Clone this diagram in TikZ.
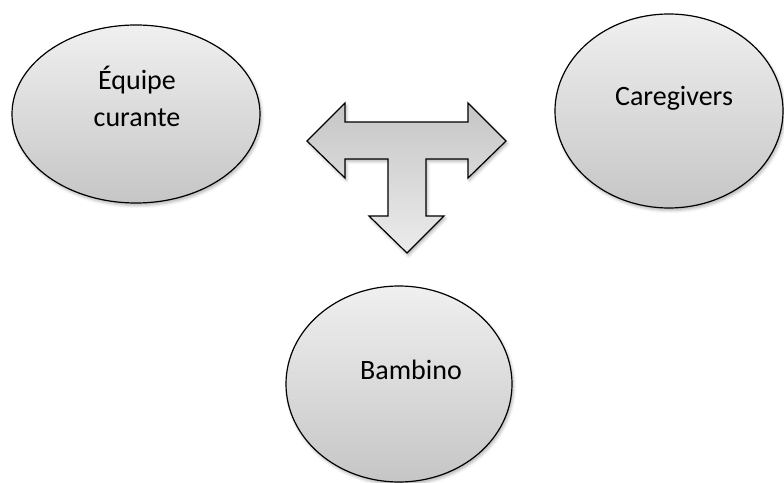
\documentclass[tikz,border=0pt]{standalone}
\usepackage{fontspec}
\setmainfont{Carlito}
\usetikzlibrary{shapes.geometric,shadows.blur}
\begin{document}
\begin{tikzpicture}[x=1pt,y=1pt,
  softshadow/.style={blur shadow={shadow xshift=1.5pt,shadow yshift=-2.5pt,shadow opacity=30,shadow blur radius=3pt}},
  bubble/.style={ellipse,draw=black,line width=1.2pt,inner sep=0pt,
    top color=gray!12,bottom color=gray!45,softshadow},
  caption/.style={font=\fontsize{28}{37}\selectfont,align=center,text=black},
  blockarrow/.style={draw=black,line width=1.2pt,line join=miter,
    top color=gray!45,bottom color=gray!15,softshadow}]
\useasboundingbox (0,0) rectangle (784,482);

% the three parties
\node[bubble,minimum width=248pt,minimum height=178pt] (equipe) at (136,368) {};
\node[bubble,minimum width=228pt,minimum height=194pt] (care) at (669,371) {};
\node[bubble,minimum width=226pt,minimum height=196pt] (bambino) at (399,98) {};

\node[caption] (equipeText) at ([shift={(1,18)}]equipe.center) {Équipe\\curante};
\node[caption] (careText) at ([shift={(5,13)}]care.center) {Caregivers};
\node[caption] (bambinoText) at ([shift={(12,14)}]bambino.center) {Bambino};

% T-shaped three-way block arrow
\path[blockarrow]
  (307,341) -- (345,379) -- (345,360) -- (468,360) -- (468,379) -- (506,341)
  -- (468,304) -- (468,323) -- (426,323) -- (426,266) -- (444,266) -- (407,229)
  -- (369,266) -- (388,266) -- (388,323) -- (345,323) -- (345,304) -- cycle;
\end{tikzpicture}
\end{document}
